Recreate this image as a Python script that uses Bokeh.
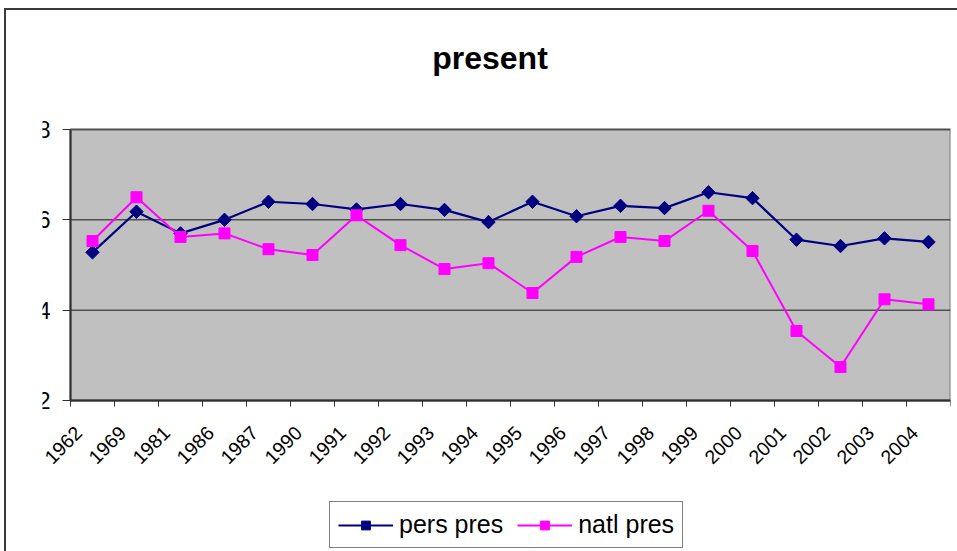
import numpy as np
from math import pi

from bokeh.plotting import figure
from bokeh.models import (ColumnDataSource, FixedTicker, Legend, LegendItem,
                          Range1d, LinearAxis, Label)
from bokeh.embed import file_html
from bokeh.resources import INLINE

# Survey years (categories along the x axis)
years = ["1962", "1969", "1981", "1986", "1987", "1990", "1991", "1992", "1993", "1994",
         "1995", "1996", "1997", "1998", "1999", "2000", "2001", "2002", "2003", "2004"]

# Series values
pers_pres = [5.28, 6.18, 5.70, 6.00, 6.40, 6.35, 6.23, 6.35, 6.22, 5.95,
             6.40, 6.08, 6.31, 6.26, 6.61, 6.48, 5.56, 5.42, 5.59, 5.51]
natl_pres = [5.53, 6.50, 5.62, 5.70, 5.35, 5.22, 6.10, 5.44, 4.91, 5.04,
             4.38, 5.18, 5.62, 5.53, 6.20, 5.31, 3.54, 2.74, 4.24, 4.13]

y_ticks = [2, 4, 6, 8]
chart_title = "present"
series_names = ["pers pres", "natl pres"]

FONT = "Liberation Sans"

# layout (pixels): the grey plot area, and the white space kept around it
PLOT_W, PLOT_H = 880, 271
PAD_TOP, PAD_BOTTOM = 119, 151
PAD_LEFT = 28           # room left of the plot area for the first year label
BORDER_LEFT = 36        # side panel holding the y axis

n = len(years)
centers = np.arange(n) + 0.5          # category centres
bounds = np.arange(n + 1)              # category boundaries (tick marks)
# rotated year labels hang a little to the left of their category centre
label_pos = np.round(centers - 0.32, 2)

y_lo, y_hi = y_ticks[0], y_ticks[-1]
px_per_y = PLOT_H / (y_hi - y_lo)
px_per_x = PLOT_W / n

# the frame also covers the title, legend and label space, so nothing is clipped
x_range = Range1d(-PAD_LEFT / px_per_x, n)
y_range = Range1d(y_lo - PAD_BOTTOM / px_per_y, y_hi + PAD_TOP / px_per_y)

src = ColumnDataSource(dict(x=centers, pers=pers_pres, natl=natl_pres))

p = figure(frame_width=PAD_LEFT + PLOT_W, frame_height=PAD_TOP + PLOT_H + PAD_BOTTOM,
           output_backend="svg", toolbar_location=None,
           x_range=x_range, y_range=y_range,
           x_axis_type=None, y_axis_type=None,
           min_border_left=BORDER_LEFT, min_border_right=7, min_border_top=0,
           min_border_bottom=0)
p.styles = {"margin-left": "4px", "margin-top": "8px",
            "border-left": "2px solid #3a3a3a", "border-top": "2px solid #3a3a3a"}

p.background_fill_color = "white"
p.border_fill_color = "white"
p.outline_line_color = None
p.xgrid.visible = False
p.ygrid.visible = False

# grey plot area
p.quad(left=[0], right=[n], bottom=[y_lo], top=[y_hi], fill_color="#c0c0c0",
       line_color="#808080", line_width=2, level="image")

# horizontal grid lines across the plot area
p.segment(x0=[0] * len(y_ticks), x1=[n] * len(y_ticks), y0=y_ticks, y1=y_ticks,
          line_color="#505050", line_width=1.5, level="underlay")

# title
p.add_layout(Label(x=n / 2 - 20.5 / px_per_x, y=y_hi + 72 / px_per_y, text=chart_title,
                   text_font=FONT, text_font_size="32px", text_font_style="bold",
                   text_color="black", text_align="center",
                   text_baseline="alphabetic"))

# y axis along x = 0
yaxis = LinearAxis(ticker=FixedTicker(ticks=y_ticks), bounds=(y_lo, y_hi),
                   fixed_location=0)
yaxis.axis_line_color = "#303030"
yaxis.axis_line_width = 2
yaxis.major_tick_line_color = "#303030"
yaxis.major_tick_out = 8
yaxis.major_tick_in = 0
yaxis.minor_tick_line_color = None
yaxis.major_label_text_font = FONT
yaxis.major_label_text_font_size = "23px"
yaxis.major_label_text_color = "black"
yaxis.major_label_standoff = 12
p.add_layout(yaxis, "left")

# x axis along y = 2: year labels under the categories, tick marks on the boundaries
xaxis = LinearAxis(ticker=FixedTicker(ticks=list(label_pos), minor_ticks=list(bounds)),
                   fixed_location=y_lo, bounds=(0, n))
xaxis.major_label_overrides = {float(c): y for c, y in zip(label_pos, years)}
xaxis.axis_line_color = "#303030"
xaxis.axis_line_width = 2
xaxis.major_tick_line_color = None
xaxis.minor_tick_line_color = "#303030"
xaxis.minor_tick_out = 6
xaxis.minor_tick_in = 0
xaxis.major_label_orientation = pi / 4
xaxis.major_label_text_font = FONT
xaxis.major_label_text_font_size = "19.5px"
xaxis.major_label_text_color = "black"
xaxis.major_label_standoff = 23
p.add_layout(xaxis, "below")

# series
l1 = p.line("x", "pers", source=src, line_color="#000080", line_width=2.2)
m1 = p.scatter("x", "pers", source=src, marker="square", angle=pi / 4, size=9.5,
               fill_color="#000080", line_color="#000080")
l2 = p.line("x", "natl", source=src, line_color="#ff00ff", line_width=2)
m2 = p.scatter("x", "natl", source=src, marker="square", size=11,
               fill_color="#ff00ff", line_color="#ff00ff")

legend = Legend(items=[LegendItem(label=series_names[0], renderers=[l1, m1]),
                       LegendItem(label=series_names[1], renderers=[l2, m2])],
                orientation="horizontal", location=(259 + PAD_LEFT, 3))
legend.label_text_font = FONT
legend.label_text_font_size = "25px"
legend.label_text_color = "black"
legend.glyph_width = 55
legend.glyph_height = 22
legend.label_standoff = 6
legend.spacing = 14
legend.padding = 8
legend.margin = 0
legend.border_line_color = "black"
legend.border_line_width = 1.5
legend.background_fill_color = "white"
legend.background_fill_alpha = 1
p.add_layout(legend)

open("out.html", "w").write(file_html(p, INLINE))
